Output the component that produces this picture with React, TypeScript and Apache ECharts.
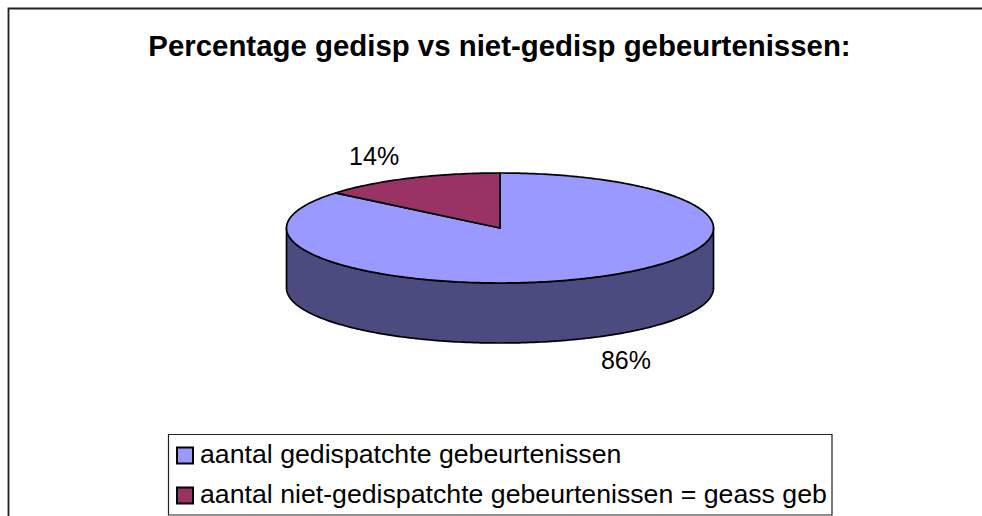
import React, { useEffect, useRef } from "react";
import * as echarts from "echarts";

const titleText = "Percentage gedisp vs niet-gedisp gebeurtenissen:";
const categories = [
  "aantal gedispatchte gebeurtenissen",
  "aantal niet-gedispatchte gebeurtenissen = geass geb",
];
const values = [86, 14];
const topColors = ["#9999FF", "#993366"];
const sideColors = ["#4B4B7F", "#4D1A33"];

const FONT = '"Liberation Sans", Arial, Helvetica, sans-serif';

export default function App() {
  const ref = useRef<HTMLDivElement>(null);

  useEffect(() => {
    const chart = echarts.init(ref.current as HTMLDivElement, null, { renderer: "svg" });
    const total = values.reduce((a, b) => a + b, 0);
    const starts: number[] = [];
    let acc = 0;
    values.forEach((v) => {
      starts.push(acc);
      acc += v;
    });

    const cx = 500;
    const cy = 228;
    const rx = 213.5;
    const ry = 55;
    const depth = 60;

    const pt = (deg: number, dy = 0) => {
      const r = (deg * Math.PI) / 180;
      return [cx + rx * Math.sin(r), cy - ry * Math.cos(r) + dy];
    };
    const arcPts = (a: number, b: number, dy = 0) => {
      const pts: number[][] = [];
      const n = Math.max(2, Math.ceil(Math.abs(b - a)));
      for (let i = 0; i <= n; i++) pts.push(pt(a + ((b - a) * i) / n, dy));
      return pts;
    };

    const renderItem = (params: any, api: any) => {
      const i = params.dataIndex;
      const v = api.value(0);
      const a0 = (starts[i] / total) * 360;
      const a1 = a0 + (v / total) * 360;
      const children: any[] = [];
      const s0 = Math.max(a0, 90);
      const s1 = Math.min(a1, 270);
      if (s1 > s0) {
        const top = arcPts(s0, s1);
        const bottom = arcPts(s1, s0, depth);
        children.push({
          type: "polygon",
          z2: 1,
          shape: { points: top.concat(bottom) },
          style: { fill: sideColors[i], stroke: "#000", lineWidth: 1.7, lineJoin: "round" },
        });
      }
      const topPts = [[cx, cy]].concat(arcPts(a0, a1));
      children.push({
        type: "polygon",
        z2: 5,
        shape: { points: topPts },
        style: { fill: topColors[i], stroke: "#000", lineWidth: 1.7, lineJoin: "round" },
      });
      const m = (((a0 + a1) / 2) * Math.PI) / 180;
      const lx = cx + rx * 1.385 * Math.sin(m);
      const ly = cy - ry * 1.45 * Math.cos(m) + (Math.cos(m) < 0 ? depth : 0);
      children.push({
        type: "text",
        z2: 10,
        x: lx,
        y: ly,
        style: {
          text: Math.round((v / total) * 100) + "%",
          fill: "#000",
          fontSize: 25,
          fontFamily: FONT,
          align: "center",
          verticalAlign: "middle",
        },
      });
      return { type: "group", children };
    };

    const legendElements: any[] = [
      {
        type: "rect",
        shape: { x: 168.5, y: 434.5, width: 663.5, height: 80.5 },
        style: { fill: "#fff", stroke: "#222", lineWidth: 1.2 },
        z: 1,
      },
    ];
    categories.forEach((c, i) => {
      const rowY = 447.5 + i * 40;
      legendElements.push({
        type: "rect",
        shape: { x: 177, y: rowY, width: 16, height: 16 },
        style: { fill: topColors[i], stroke: "#000", lineWidth: 2 },
        z: 2,
      });
      legendElements.push({
        type: "text",
        x: 200,
        y: rowY + 6.5,
        style: {
          text: c,
          fill: "#000",
          fontSize: 26.7,
          fontFamily: FONT,
          align: "left",
          verticalAlign: "middle",
          textAlign: "left",
          textVerticalAlign: "middle",
        },
        z: 2,
      });
    });

    chart.setOption({
      animation: false,
      backgroundColor: "#fff",
      graphic: [
        {
          type: "rect",
          shape: { x: 8.5, y: 8.5, width: 1200, height: 800 },
          style: { fill: "none", stroke: "#222", lineWidth: 1.8 },
          z: 0,
        },
        {
          type: "text",
          x: 499.5,
          y: 45,
          style: {
            text: titleText,
            fill: "#000",
            fontSize: 29.4,
            fontWeight: "bold",
            fontFamily: FONT,
            align: "center",
            verticalAlign: "middle",
            textAlign: "center",
            textVerticalAlign: "middle",
          },
          z: 2,
        },
        ...legendElements,
      ],
      series: [
        {
          type: "custom",
          coordinateSystem: "none",
          renderItem,
          silent: true,
          data: values.map((v, i) => ({ value: [v], name: categories[i] })),
        },
      ],
    });

    return () => chart.dispose();
  }, []);

  return (
    <div
      ref={ref}
      style={{ position: "absolute", left: 0, top: 0, width: 982, height: 516 }}
    />
  );
}
